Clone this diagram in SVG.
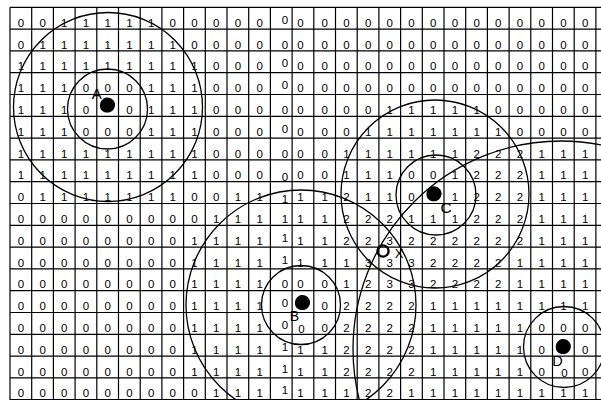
<svg xmlns="http://www.w3.org/2000/svg" width="601" height="400" viewBox="0 0 601 400">
<style>
.grid{fill:none;stroke:#000;stroke-width:1.2}
.ring{fill:none;stroke:#000;stroke-width:1.3}
.d text{font-family:"Liberation Sans",Arial,sans-serif;font-size:11.5px;text-anchor:middle;fill:#000}
.lbl{font-family:"Liberation Sans",Arial,sans-serif;text-anchor:middle;fill:#000}
</style>
<defs>
<path id="blob" d="M-1,-7.5 C3,-8 7,-5 7.5,-1 C8,3 5,7 1,7.5 C-3,8 -7,6 -7.5,1.5 C-8,-3 -5,-7 -1,-7.5 Z" fill="#000"/>
</defs>
<rect width="601" height="400" fill="#fff"/>
<path class="grid" d="M10 7.3H601M10 29.1H601M10 50.9H601M10 72.7H601M10 94.5H601M10 116.3H601M10 138.1H601M10 159.9H601M10 181.7H601M10 203.5H601M10 225.3H601M10 247.1H601M10 268.9H601M10 290.7H601M10 312.5H601M10 334.3H601M10 356.1H601M10 377.9H601M10 399.7H601
M10 7.3V400M31.7 7.3V400M53.4 7.3V400M75.1 7.3V400M96.8 7.3V400M118.5 7.3V400M140.2 7.3V400M161.9 7.3V400M183.6 7.3V400M205.3 7.3V400M227 7.3V400M248.7 7.3V400M270.4 7.3V400M292.1 7.3V400M313.8 7.3V400M335.5 7.3V400M357.2 7.3V400M378.9 7.3V400M400.6 7.3V400M422.3 7.3V400M444 7.3V400M465.7 7.3V400M487.4 7.3V400M509.1 7.3V400M530.8 7.3V400M552.5 7.3V400M574.2 7.3V400M595.9 7.3V400"/>
<g class="d">
<g transform="translate(0,26.7)"><text x="20.9">0</text><text x="42.6">0</text><text x="64.3">1</text><text x="86">1</text><text x="107.7">1</text><text x="129.4">1</text><text x="151.1">1</text><text x="172.8">0</text><text x="194.5">0</text><text x="216.2">0</text><text x="237.9">0</text><text x="259.6">0</text><text x="285" y="-3">0</text><text x="300.5">0</text><text x="324.7">0</text><text x="346.4">0</text><text x="368.1">0</text><text x="389.8">0</text><text x="411.5">0</text><text x="433.2">0</text><text x="454.9">0</text><text x="476.6">0</text><text x="498.3">0</text><text x="520">0</text><text x="541.7">0</text><text x="563.4">0</text><text x="585.1">0</text></g>
<g transform="translate(0,48.5)"><text x="20.9">0</text><text x="42.6">1</text><text x="64.3">1</text><text x="86">1</text><text x="107.7">1</text><text x="129.4">1</text><text x="151.1">1</text><text x="172.8">1</text><text x="194.5">0</text><text x="216.2">0</text><text x="237.9">0</text><text x="259.6">0</text><text x="285">0</text><text x="300.5">0</text><text x="324.7">0</text><text x="346.4">0</text><text x="368.1">0</text><text x="389.8">0</text><text x="411.5">0</text><text x="433.2">0</text><text x="454.9">0</text><text x="476.6">0</text><text x="498.3">0</text><text x="520">0</text><text x="541.7">0</text><text x="563.4">0</text><text x="585.1">0</text></g>
<g transform="translate(0,70.3)"><text x="20.9">1</text><text x="42.6">1</text><text x="64.3">1</text><text x="86">1</text><text x="107.7">1</text><text x="129.4">1</text><text x="151.1">1</text><text x="172.8">1</text><text x="194.5">1</text><text x="216.2">0</text><text x="237.9">0</text><text x="259.6">0</text><text x="285" y="-3">0</text><text x="300.5">0</text><text x="324.7">0</text><text x="346.4">0</text><text x="368.1">0</text><text x="389.8">0</text><text x="411.5">0</text><text x="433.2">0</text><text x="454.9">0</text><text x="476.6">0</text><text x="498.3">0</text><text x="520">0</text><text x="541.7">0</text><text x="563.4">0</text><text x="585.1">0</text></g>
<g transform="translate(0,92.1)"><text x="20.9">1</text><text x="42.6">1</text><text x="64.3">1</text><text x="86">0</text><text x="107.7">0</text><text x="129.4">0</text><text x="151.1">1</text><text x="172.8">1</text><text x="194.5">1</text><text x="216.2">0</text><text x="237.9">0</text><text x="259.6">0</text><text x="285" y="-3">0</text><text x="300.5">0</text><text x="324.7">0</text><text x="346.4">0</text><text x="368.1">0</text><text x="389.8">0</text><text x="411.5">0</text><text x="433.2">0</text><text x="454.9">0</text><text x="476.6">0</text><text x="498.3">0</text><text x="520">0</text><text x="541.7">0</text><text x="563.4">0</text><text x="585.1">0</text></g>
<g transform="translate(0,113.9)"><text x="20.9">1</text><text x="42.6">1</text><text x="64.3">1</text><text x="86">0</text><text x="129.4">0</text><text x="151.1">1</text><text x="172.8">1</text><text x="194.5">1</text><text x="216.2">0</text><text x="237.9">0</text><text x="259.6">0</text><text x="285">0</text><text x="300.5">0</text><text x="324.7">0</text><text x="346.4">0</text><text x="368.1">0</text><text x="389.8">1</text><text x="411.5">1</text><text x="433.2">1</text><text x="454.9">1</text><text x="476.6">1</text><text x="498.3">0</text><text x="520">0</text><text x="541.7">0</text><text x="563.4">0</text><text x="585.1">0</text></g>
<g transform="translate(0,135.7)"><text x="20.9">1</text><text x="42.6">1</text><text x="64.3">1</text><text x="86">0</text><text x="107.7">0</text><text x="129.4">0</text><text x="151.1">1</text><text x="172.8">1</text><text x="194.5">1</text><text x="216.2">0</text><text x="237.9">0</text><text x="259.6">0</text><text x="285" y="-3">0</text><text x="300.5">0</text><text x="324.7">0</text><text x="346.4">0</text><text x="368.1">1</text><text x="389.8">1</text><text x="411.5">1</text><text x="433.2">1</text><text x="454.9">1</text><text x="476.6">1</text><text x="498.3">1</text><text x="520">0</text><text x="541.7">0</text><text x="563.4">0</text><text x="585.1">0</text></g>
<g transform="translate(0,157.5)"><text x="20.9">1</text><text x="42.6">1</text><text x="64.3">1</text><text x="86">1</text><text x="107.7">1</text><text x="129.4">1</text><text x="151.1">1</text><text x="172.8">1</text><text x="194.5">1</text><text x="216.2">0</text><text x="237.9">0</text><text x="259.6">0</text><text x="285">0</text><text x="300.5">0</text><text x="324.7">0</text><text x="346.4">1</text><text x="368.1">1</text><text x="389.8">1</text><text x="411.5">1</text><text x="433.2">1</text><text x="454.9">1</text><text x="476.6">2</text><text x="498.3">2</text><text x="520">2</text><text x="541.7">1</text><text x="563.4">1</text><text x="585.1">1</text></g>
<g transform="translate(0,179.3)"><text x="20.9">1</text><text x="42.6">1</text><text x="64.3">1</text><text x="86">1</text><text x="107.7">1</text><text x="129.4">1</text><text x="151.1">1</text><text x="172.8">1</text><text x="194.5">1</text><text x="216.2">0</text><text x="237.9">0</text><text x="259.6">0</text><text x="285" y="2">0</text><text x="300.5">0</text><text x="324.7">0</text><text x="346.4">1</text><text x="368.1">1</text><text x="389.8">1</text><text x="411.5">0</text><text x="433.2">0</text><text x="454.9">1</text><text x="476.6">2</text><text x="498.3">2</text><text x="520">2</text><text x="541.7">1</text><text x="563.4">1</text><text x="585.1">1</text></g>
<g transform="translate(0,201.1)"><text x="20.9">0</text><text x="42.6">1</text><text x="64.3">1</text><text x="86">1</text><text x="107.7">1</text><text x="129.4">1</text><text x="151.1">1</text><text x="172.8">1</text><text x="194.5">0</text><text x="216.2">0</text><text x="237.9">1</text><text x="259.6">1</text><text x="285" y="2">1</text><text x="300.5">1</text><text x="324.7">1</text><text x="346.4">2</text><text x="368.1">1</text><text x="389.8">1</text><text x="411.5">0</text><text x="454.9">1</text><text x="476.6">2</text><text x="498.3">2</text><text x="520">2</text><text x="541.7">1</text><text x="563.4">1</text><text x="585.1">1</text></g>
<g transform="translate(0,222.9)"><text x="20.9">0</text><text x="42.6">0</text><text x="64.3">0</text><text x="86">0</text><text x="107.7">0</text><text x="129.4">0</text><text x="151.1">0</text><text x="172.8">0</text><text x="194.5">0</text><text x="216.2">1</text><text x="237.9">1</text><text x="259.6">1</text><text x="285">1</text><text x="300.5">1</text><text x="324.7">1</text><text x="346.4">2</text><text x="368.1">2</text><text x="389.8">2</text><text x="411.5">1</text><text x="433.2">1</text><text x="454.9">1</text><text x="476.6">2</text><text x="498.3">2</text><text x="520">2</text><text x="541.7">1</text><text x="563.4">1</text><text x="585.1">1</text></g>
<g transform="translate(0,244.7)"><text x="20.9">0</text><text x="42.6">0</text><text x="64.3">0</text><text x="86">0</text><text x="107.7">0</text><text x="129.4">0</text><text x="151.1">0</text><text x="172.8">0</text><text x="194.5">1</text><text x="216.2">1</text><text x="237.9">1</text><text x="259.6">1</text><text x="285" y="-3">1</text><text x="300.5">1</text><text x="324.7">1</text><text x="346.4">2</text><text x="368.1">2</text><text x="389.8">3</text><text x="411.5">2</text><text x="433.2">2</text><text x="454.9">2</text><text x="476.6">2</text><text x="498.3">2</text><text x="520">2</text><text x="541.7">1</text><text x="563.4">1</text><text x="585.1">1</text></g>
<g transform="translate(0,266.5)"><text x="20.9">0</text><text x="42.6">0</text><text x="64.3">0</text><text x="86">0</text><text x="107.7">0</text><text x="129.4">0</text><text x="151.1">0</text><text x="172.8">0</text><text x="194.5">1</text><text x="216.2">1</text><text x="237.9">1</text><text x="259.6">1</text><text x="285" y="-3">1</text><text x="300.5">1</text><text x="324.7">1</text><text x="346.4">1</text><text x="368.1">3</text><text x="389.8">3</text><text x="411.5">3</text><text x="433.2">2</text><text x="454.9">2</text><text x="476.6">2</text><text x="498.3">2</text><text x="520">1</text><text x="541.7">1</text><text x="563.4">1</text><text x="585.1">1</text></g>
<g transform="translate(0,288.3)"><text x="20.9">0</text><text x="42.6">0</text><text x="64.3">0</text><text x="86">0</text><text x="107.7">0</text><text x="129.4">0</text><text x="151.1">0</text><text x="172.8">0</text><text x="194.5">1</text><text x="216.2">1</text><text x="237.9">1</text><text x="259.6">1</text><text x="285">0</text><text x="300.5">0</text><text x="324.7">0</text><text x="346.4">1</text><text x="368.1">2</text><text x="389.8">3</text><text x="411.5">3</text><text x="433.2">2</text><text x="454.9">2</text><text x="476.6">2</text><text x="498.3">2</text><text x="520">1</text><text x="541.7">1</text><text x="563.4">1</text><text x="585.1">1</text></g>
<g transform="translate(0,310.1)"><text x="20.9">0</text><text x="42.6">0</text><text x="64.3">0</text><text x="86">0</text><text x="107.7">0</text><text x="129.4">0</text><text x="151.1">0</text><text x="172.8">0</text><text x="194.5">1</text><text x="216.2">1</text><text x="237.9">1</text><text x="259.6">1</text><text x="285" y="-3">0</text><text x="324.7">0</text><text x="346.4">2</text><text x="368.1">2</text><text x="389.8">2</text><text x="411.5">2</text><text x="433.2">1</text><text x="454.9">1</text><text x="476.6">1</text><text x="498.3">1</text><text x="520">1</text><text x="541.7">1</text><text x="563.4">1</text><text x="585.1">1</text></g>
<g transform="translate(0,331.9)"><text x="20.9">0</text><text x="42.6">0</text><text x="64.3">0</text><text x="86">0</text><text x="107.7">0</text><text x="129.4">0</text><text x="151.1">0</text><text x="172.8">0</text><text x="194.5">1</text><text x="216.2">1</text><text x="237.9">1</text><text x="259.6">1</text><text x="285" y="-3">0</text><text x="301.5" y="1">0</text><text x="324.7">0</text><text x="346.4">2</text><text x="368.1">2</text><text x="389.8">2</text><text x="411.5">2</text><text x="433.2">1</text><text x="454.9">1</text><text x="476.6">1</text><text x="498.3">1</text><text x="520">1</text><text x="541.7">0</text><text x="563.4">0</text><text x="585.1">0</text></g>
<g transform="translate(0,353.7)"><text x="20.9">0</text><text x="42.6">0</text><text x="64.3">0</text><text x="86">0</text><text x="107.7">0</text><text x="129.4">0</text><text x="151.1">0</text><text x="172.8">0</text><text x="194.5">1</text><text x="216.2">1</text><text x="237.9">1</text><text x="259.6">1</text><text x="285" y="-3">1</text><text x="300.5">1</text><text x="324.7">1</text><text x="346.4">2</text><text x="368.1">2</text><text x="389.8">2</text><text x="411.5">2</text><text x="433.2">1</text><text x="454.9">1</text><text x="476.6">1</text><text x="498.3">1</text><text x="520">1</text><text x="541.7">0</text><text x="585.1">0</text></g>
<g transform="translate(0,375.5)"><text x="20.9">0</text><text x="42.6">0</text><text x="64.3">0</text><text x="86">0</text><text x="107.7">0</text><text x="129.4">0</text><text x="151.1">0</text><text x="172.8">0</text><text x="194.5">1</text><text x="216.2">1</text><text x="237.9">1</text><text x="259.6">1</text><text x="285" y="-3">1</text><text x="300.5">1</text><text x="324.7">1</text><text x="346.4">2</text><text x="368.1">2</text><text x="389.8">2</text><text x="411.5">2</text><text x="433.2">1</text><text x="454.9">1</text><text x="476.6">1</text><text x="498.3">1</text><text x="520">1</text><text x="541.7">0</text><text x="564.5" y="1">0</text><text x="585.1">0</text></g>
<g transform="translate(0,397.3)"><text x="20.9">0</text><text x="42.6">0</text><text x="64.3">0</text><text x="86">0</text><text x="107.7">0</text><text x="129.4">0</text><text x="151.1">0</text><text x="172.8">0</text><text x="194.5">0</text><text x="216.2">1</text><text x="237.9">1</text><text x="259.6">1</text><text x="285" y="-3">1</text><text x="300.5">1</text><text x="324.7">1</text><text x="346.4">1</text><text x="368.1">2</text><text x="389.8">2</text><text x="411.5">1</text><text x="433.2">1</text><text x="454.9">1</text><text x="476.6">1</text><text x="498.3">1</text><text x="520">1</text><text x="541.7">1</text><text x="563.4">1</text><text x="585.1">1</text></g>
</g>
<g id="node-A">
<circle class="ring" cx="108" cy="107" r="94.5"/>
<circle class="ring" cx="107.5" cy="109" r="40"/>
<use href="#blob" x="107.5" y="105"/>
<text class="lbl" x="96.7" y="99" font-size="15">A</text>
</g>
<g id="node-B">
<circle class="ring" cx="301" cy="305" r="115"/>
<circle class="ring" cx="301" cy="305" r="39.5"/>
<use href="#blob" x="302.5" y="302.5"/>
<text class="lbl" x="294.5" y="320.5" font-size="14">B</text>
</g>
<g id="node-C">
<circle class="ring" cx="435" cy="194" r="94"/>
<circle class="ring" cx="436" cy="195" r="40"/>
<use href="#blob" x="434" y="193.7"/>
<text class="lbl" x="446" y="213.3" font-size="15.5">C</text>
</g>
<g id="node-D">
<circle class="ring" cx="561" cy="349" r="208"/>
<circle class="ring" cx="564" cy="347" r="40.5"/>
<use href="#blob" x="563.3" y="346.5"/>
<text class="lbl" x="557.5" y="366" font-size="14.5">D</text>
</g>
<g id="connectors">
<g id="point-X">
<circle cx="383" cy="251" r="5.6" fill="none" stroke="#000" stroke-width="2.3"/>
<text class="lbl" x="399" y="258" font-size="13">X</text>
</g>
</g>
</svg>
